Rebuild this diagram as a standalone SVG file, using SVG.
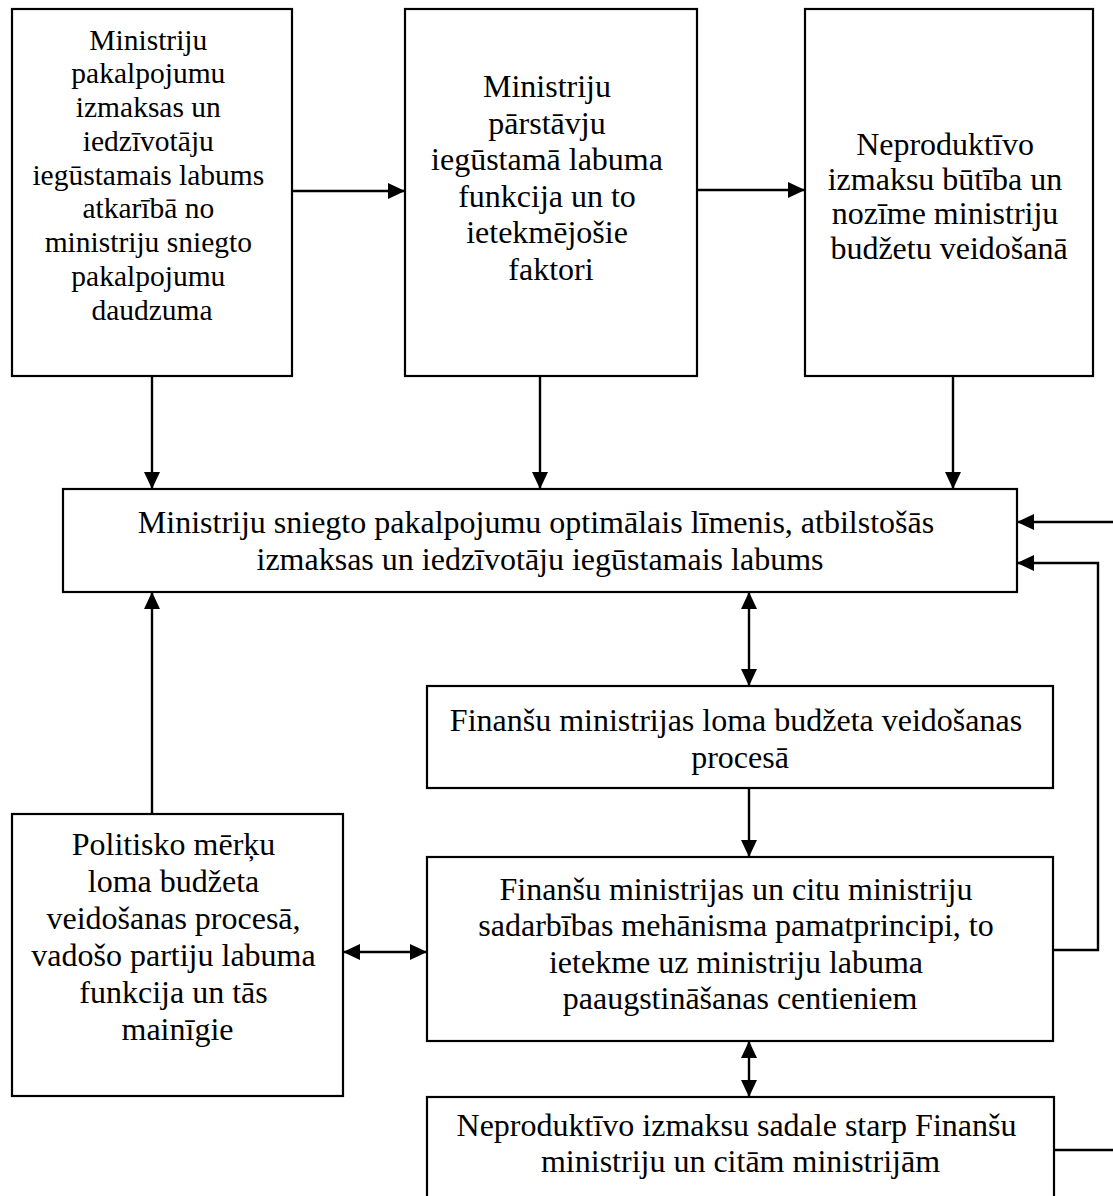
<svg xmlns="http://www.w3.org/2000/svg" width="1113" height="1196" viewBox="0 0 1113 1196">
  <style>
    .box { fill: #ffffff; stroke: #000000; stroke-width: 2.2; }
    .lbl { font-family: "Liberation Serif", "Times New Roman", serif; font-size: 32px; fill: #000000; text-anchor: middle; }
    .sm { font-size: 29.5px; }
    .wire { fill: none; stroke: #000000; stroke-width: 2.4; }
  </style>
  <defs>
    <marker id="head" viewBox="0 0 17 16" markerUnits="userSpaceOnUse" markerWidth="17" markerHeight="16" refX="17" refY="8" orient="auto-start-reverse">
      <path d="M0,0 L17,8 L0,16 Z" fill="#000000"/>
    </marker>
  </defs>
  <rect width="1113" height="1196" fill="#ffffff"/>

  <g id="connectors">
    <!-- top row: left to right -->
    <line class="wire" x1="292" y1="191" x2="405" y2="191" marker-end="url(#head)"/>
    <line class="wire" x1="697" y1="190" x2="805" y2="190" marker-end="url(#head)"/>
    <!-- top row down into the central box -->
    <line class="wire" x1="152" y1="376" x2="152" y2="489" marker-end="url(#head)"/>
    <line class="wire" x1="540" y1="376" x2="540" y2="489" marker-end="url(#head)"/>
    <line class="wire" x1="953" y1="376" x2="953" y2="489" marker-end="url(#head)"/>
    <!-- political goals up into the central box -->
    <line class="wire" x1="152" y1="814" x2="152" y2="592" marker-end="url(#head)"/>
    <!-- central box and ministry of finance chain -->
    <line class="wire" x1="749" y1="686" x2="749" y2="592" marker-start="url(#head)" marker-end="url(#head)"/>
    <line class="wire" x1="749" y1="788" x2="749" y2="857" marker-end="url(#head)"/>
    <line class="wire" x1="749" y1="1041" x2="749" y2="1097" marker-start="url(#head)" marker-end="url(#head)"/>
    <line class="wire" x1="343" y1="952" x2="427" y2="952" marker-start="url(#head)" marker-end="url(#head)"/>
    <!-- feedback lines on the right -->
    <line class="wire" x1="1113" y1="522" x2="1017" y2="522" marker-end="url(#head)"/>
    <polyline class="wire" points="1053,950 1098,950 1098,563 1017,563" marker-end="url(#head)"/>
    <line class="wire" x1="1054" y1="1150" x2="1113" y2="1150"/>
  </g>

  <g id="node-costs">
    <rect class="box" x="12" y="9" width="280" height="367"/>
    <text class="lbl sm">
      <tspan x="152" y="49.5">Ministriju</tspan>
      <tspan x="152" y="83">pakalpojumu</tspan>
      <tspan x="152" y="117">izmaksas un</tspan>
      <tspan x="152" y="150.5">iedzīvotāju</tspan>
      <tspan x="152" y="184.5">iegūstamais labums</tspan>
      <tspan x="152" y="218">atkarībā no</tspan>
      <tspan x="152" y="252">ministriju sniegto</tspan>
      <tspan x="152" y="285.5">pakalpojumu</tspan>
      <tspan x="152" y="319.5">daudzuma</tspan>
    </text>
  </g>

  <g id="node-representatives">
    <rect class="box" x="405" y="9" width="292" height="367"/>
    <text class="lbl">
      <tspan x="551" y="97">Ministriju</tspan>
      <tspan x="551" y="133.5">pārstāvju</tspan>
      <tspan x="551" y="170">iegūstamā labuma</tspan>
      <tspan x="551" y="206.5">funkcija un to</tspan>
      <tspan x="551" y="243">ietekmējošie</tspan>
      <tspan x="551" y="279.5">faktori</tspan>
    </text>
  </g>

  <g id="node-unproductive">
    <rect class="box" x="805" y="9" width="288" height="367"/>
    <text class="lbl">
      <tspan x="949" y="155">Neproduktīvo</tspan>
      <tspan x="949" y="189.5">izmaksu būtība un</tspan>
      <tspan x="949" y="224">nozīme ministriju</tspan>
      <tspan x="949" y="258.5">budžetu veidošanā</tspan>
    </text>
  </g>

  <g id="node-optimum">
    <rect class="box" x="63" y="489" width="954" height="103"/>
    <text class="lbl">
      <tspan x="540" y="533">Ministriju sniegto pakalpojumu optimālais līmenis, atbilstošās</tspan>
      <tspan x="540" y="570">izmaksas un iedzīvotāju iegūstamais labums</tspan>
    </text>
  </g>

  <g id="node-finance-role">
    <rect class="box" x="427" y="686" width="626" height="102"/>
    <text class="lbl">
      <tspan x="740" y="731">Finanšu ministrijas loma budžeta veidošanas</tspan>
      <tspan x="740" y="768">procesā</tspan>
    </text>
  </g>

  <g id="node-political">
    <rect class="box" x="12" y="814" width="331" height="282"/>
    <text class="lbl">
      <tspan x="177.5" y="855">Politisko mērķu</tspan>
      <tspan x="177.5" y="892">loma budžeta</tspan>
      <tspan x="177.5" y="929">veidošanas procesā,</tspan>
      <tspan x="177.5" y="966">vadošo partiju labuma</tspan>
      <tspan x="177.5" y="1003">funkcija un tās</tspan>
      <tspan x="177.5" y="1040">mainīgie</tspan>
    </text>
  </g>

  <g id="node-cooperation">
    <rect class="box" x="427" y="857" width="626" height="184"/>
    <text class="lbl">
      <tspan x="740" y="899.5">Finanšu ministrijas un citu ministriju</tspan>
      <tspan x="740" y="936">sadarbības mehānisma pamatprincipi, to</tspan>
      <tspan x="740" y="972.5">ietekme uz ministriju labuma</tspan>
      <tspan x="740" y="1009">paaugstināšanas centieniem</tspan>
    </text>
  </g>

  <g id="node-allocation">
    <rect class="box" x="427" y="1097" width="627" height="120"/>
    <text class="lbl">
      <tspan x="740.5" y="1136">Neproduktīvo izmaksu sadale starp Finanšu</tspan>
      <tspan x="740.5" y="1172">ministriju un citām ministrijām</tspan>
    </text>
  </g>
</svg>
